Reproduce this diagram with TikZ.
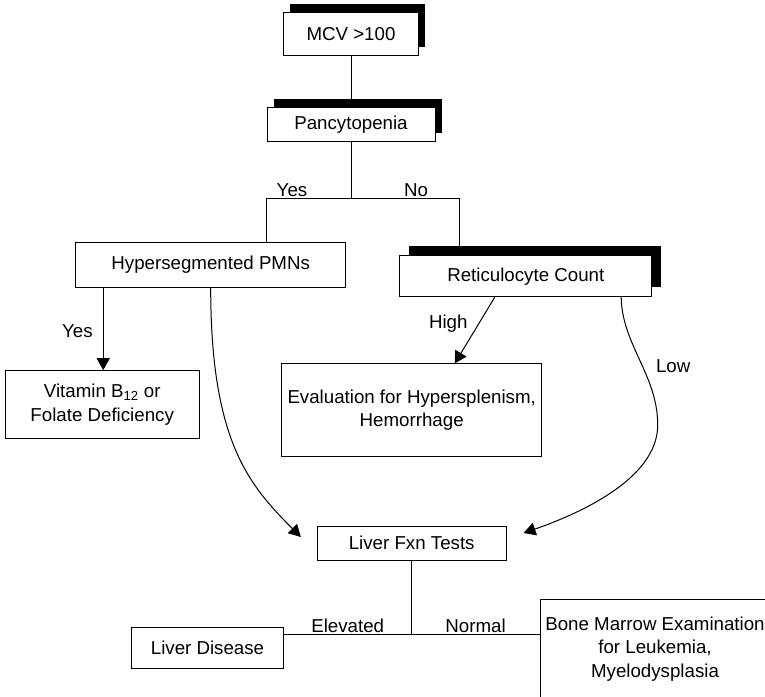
\documentclass[tikz,border=0pt]{standalone}
\usepackage{fontspec}
\setmainfont{Liberation Sans}
\usetikzlibrary{arrows.meta,shadows}

\begin{document}
\begin{tikzpicture}[x=1pt,y=-1pt,line width=1pt,>={Triangle[width=13pt,length=12pt]},font=\fontsize{18.7}{23.5}\selectfont,
  box/.style={rectangle,draw,fill=white,line width=1pt,align=center,inner sep=2pt},
  shadowbox/.style 2 args={general shadow={fill=black,shadow xshift=#1,shadow yshift=#2}},
  lbl/.style={inner sep=1pt}]
\path[use as bounding box,clip] (0,0) rectangle (765,696);
\node[box,shadowbox={6.5pt}{8.5pt},minimum width=135pt,minimum height=43pt] (mcv) at (351,33.7) {MCV >100};
\node[box,shadowbox={6.5pt}{8.5pt},minimum width=168pt,minimum height=34.4pt] (pancy) at (351,124.5) {Pancytopenia};
\node[box,minimum width=270pt,minimum height=44.6pt] (hyper) at (210.7,265) {Hypersegmented PMNs};
\node[box,shadowbox={9.5pt}{10pt},minimum width=251.7pt,minimum height=40.7pt] (retic) at (525.8,276.3) {Reticulocyte Count};
\node[box,minimum width=194.3pt,minimum height=67.6pt] (vitb) at (102.2,404.5) {Vitamin B\textsubscript{12} or\\Folate Deficiency};
\node[box,minimum width=260pt,minimum height=92.7pt] (evalh) at (411.7,410.3) {Evaluation for Hypersplenism,\\Hemorrhage};
\node[box,minimum width=188.7pt,minimum height=34pt] (lft) at (411.7,543) {Liver Fxn Tests};
\node[box,minimum width=151.6pt,minimum height=40.6pt] (liverd) at (207.5,648) {Liver Disease};
\node[box,minimum width=230pt,minimum height=100pt] (bonem) at (655,649) {Bone Marrow Examination\\for Leukemia,\\Myelodysplasia};
\coordinate (fork) at (351,198);
\coordinate (yesc) at (266.7,198);
\coordinate (noc) at (459.3,198);
\coordinate (lowbend) at (657.7,425);
\coordinate (lfork) at (411.7,634);
\draw (mcv) -- (pancy);
\draw (pancy) -- (fork);
\draw (fork) -- node[lbl,above,pos=0.7] {Yes} (yesc);
\draw (fork) -- node[lbl,above,pos=0.6] {No} (noc);
\draw (yesc) -- (yesc |- hyper.north);
\draw (noc) -- (noc |- retic.north);
\draw[->] ([xshift=28pt]hyper.south west) -- node[lbl,left=9pt,pos=0.53] {Yes} ([xshift=28pt]hyper.south west |- vitb.north);
\draw[->] (hyper.south) .. controls +(0,153) and +(-52,-52) .. ([xshift=-16pt,yshift=6pt]lft.west);
\draw[->] ([xshift=-31pt]retic.south) -- node[lbl,left=10pt,pos=0.395] {High} ([xshift=43pt]evalh.north);
\draw[->] ([xshift=-31pt]retic.south east) .. controls +(1,48) and +(0,-50) .. node[lbl,right=12pt,pos=0.55] {Low} (lowbend) .. controls +(0,55) and +(52,-18) .. ([xshift=17pt,yshift=10pt]lft.east);
\draw (lft) -- (lfork);
\draw (lfork) -- node[lbl,above] {Elevated} (lfork -| liverd.east);
\draw (lfork) -- node[lbl,above] {Normal} (lfork -| bonem.west);
\end{tikzpicture}
\end{document}
